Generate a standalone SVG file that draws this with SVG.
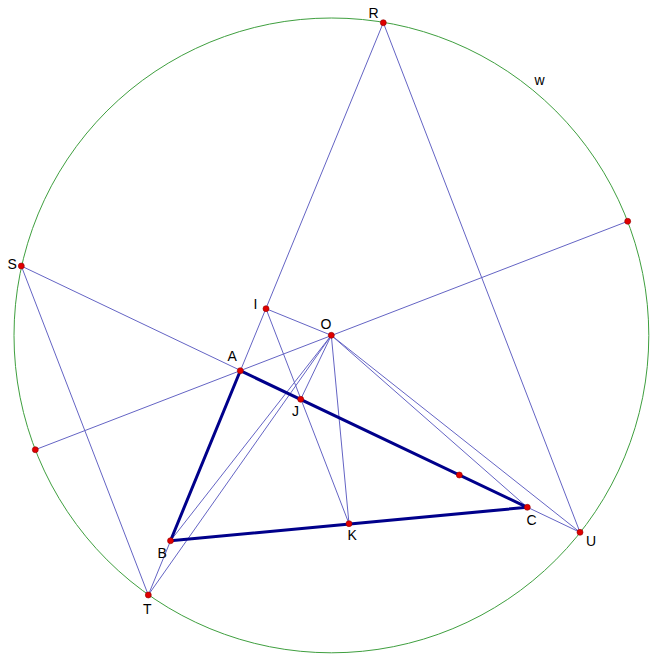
<svg xmlns="http://www.w3.org/2000/svg" width="657" height="659" viewBox="0 0 657 659">
<style>
.thin{stroke:#6464c4;stroke-width:1;fill:none}
.tri{stroke:#00008b;stroke-width:3;fill:none;stroke-linecap:round;stroke-linejoin:round}
.circ{stroke:#3f9f3f;stroke-width:1;fill:none}
.pt{fill:#e00000;stroke:#900000;stroke-width:0.6}
.lbl{font-family:"Liberation Sans",Arial,sans-serif;font-size:14px;fill:#000}
</style>
<rect width="657" height="659" fill="#fff"/>
<g id="w">
<circle class="circ" cx="331.4" cy="335.4" r="317.4"/>
<text class="lbl" x="534.5" y="84.5">w</text>
</g>
<g id="connectors">
<line class="thin" x1="383.3" y1="22.7" x2="148.3" y2="595"/>
<line class="thin" x1="21.3" y1="266" x2="580" y2="532.3"/>
<line class="thin" x1="21.3" y1="266" x2="148.3" y2="595"/>
<line class="thin" x1="383.3" y1="22.7" x2="580" y2="532.3"/>
<line class="thin" x1="35.3" y1="449.7" x2="627.7" y2="221.3"/>
<line class="thin" x1="266" y1="308.7" x2="331.3" y2="335.3"/>
<line class="thin" x1="266" y1="308.7" x2="349" y2="523.7"/>
<line class="thin" x1="331.3" y1="335.3" x2="300.7" y2="399.3"/>
<line class="thin" x1="331.3" y1="335.3" x2="349" y2="523.7"/>
<line class="thin" x1="331.3" y1="335.3" x2="170.5" y2="540.7"/>
<line class="thin" x1="331.3" y1="335.3" x2="148.3" y2="595"/>
<line class="thin" x1="331.3" y1="335.3" x2="527.3" y2="507.3"/>
<line class="thin" x1="331.3" y1="335.3" x2="580" y2="532.3"/>
<polygon class="tri" points="240.3,370.7 170.5,540.7 527.3,507.3"/>
</g>
<g id="R"><circle class="pt" cx="383.3" cy="22.7" r="3"/><text class="lbl" x="368.5" y="17.5">R</text></g>
<g id="S"><circle class="pt" cx="21.3" cy="266" r="3"/><text class="lbl" x="7.5" y="269">S</text></g>
<g id="T"><circle class="pt" cx="148.3" cy="595" r="3"/><text class="lbl" x="143" y="614">T</text></g>
<g id="U"><circle class="pt" cx="580" cy="532.3" r="3"/><text class="lbl" x="586" y="546">U</text></g>
<g id="I"><circle class="pt" cx="266" cy="308.7" r="3"/><text class="lbl" x="253.5" y="309">I</text></g>
<g id="O"><circle class="pt" cx="331.3" cy="335.3" r="3"/><text class="lbl" x="320.5" y="329">O</text></g>
<g id="A"><circle class="pt" cx="240.3" cy="370.7" r="3"/><text class="lbl" x="227.5" y="361">A</text></g>
<g id="J"><circle class="pt" cx="300.7" cy="399.3" r="3"/><text class="lbl" x="292" y="416">J</text></g>
<g id="B"><circle class="pt" cx="170.5" cy="540.7" r="3"/><text class="lbl" x="157.5" y="558">B</text></g>
<g id="K"><circle class="pt" cx="349" cy="523.7" r="3"/><text class="lbl" x="347.5" y="540">K</text></g>
<g id="C"><circle class="pt" cx="527.3" cy="507.3" r="3"/><text class="lbl" x="526.5" y="525">C</text></g>
<g id="P"><circle class="pt" cx="459.3" cy="475" r="3"/></g>
<g id="D1"><circle class="pt" cx="35.3" cy="449.7" r="3"/></g>
<g id="D2"><circle class="pt" cx="627.7" cy="221.3" r="3"/></g>
</svg>
